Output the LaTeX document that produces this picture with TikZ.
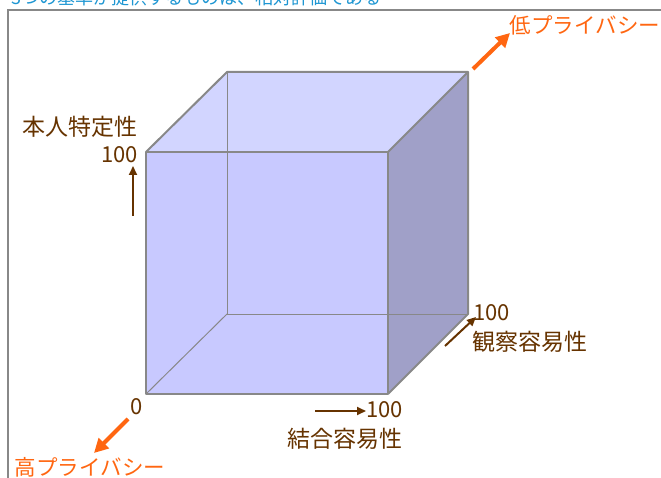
\documentclass[tikz,border=0pt]{standalone}
\usepackage{fontspec}
\setmainfont{Noto Sans CJK JP}
\usetikzlibrary{arrows.meta}
\definecolor{brownT}{HTML}{663300}
\definecolor{orangeT}{HTML}{FF6611}
\definecolor{blueT}{HTML}{1E96D2}
\definecolor{edgeC}{HTML}{888888}
\definecolor{frontC}{HTML}{C8C9FF}
\definecolor{topC}{HTML}{D2D5FF}
\definecolor{sideC}{HTML}{A0A0C8}
\tikzset{
  lbl/.style={text=brownT, font=\fontsize{23}{23}\selectfont, inner sep=0pt},
  numlbl/.style={text=brownT, font=\fontsize{22}{22}\selectfont, inner sep=0pt},
  privlbl/.style={text=orangeT, font=\fontsize{21.5}{21.5}\selectfont, inner sep=0pt},
  brownarrow/.style={draw=brownT, line width=2pt, -{Triangle[length=9pt,width=8pt]}},
  orangearrow/.style={draw=orangeT, line width=4pt, -{Triangle[length=14pt,width=14pt]}},
  cubeedge/.style={draw=edgeC, line width=2pt, line join=round},
  hiddenedge/.style={draw=edgeC, line width=1pt},
}
\begin{document}
\begin{tikzpicture}[x=1pt,y=-1pt]
\useasboundingbox (0,0) rectangle (661,478);
\clip (0,0) rectangle (661,478);
% title (cut off at the top edge, as in the reference)
\node[text=blueT, font=\fontsize{18}{18}\selectfont, anchor=west, inner sep=0pt] (title) at (11,-2) {3つの基準が提供するものは、相対評価である};
% frame
\draw[edgeC, line width=2pt] (8,480) -- (8,10) -- (663,10);
% cube corners
\coordinate (f1) at (146,152); \coordinate (f2) at (388,152);
\coordinate (f3) at (388,394); \coordinate (f4) at (146,394);
\coordinate (b1) at (227,72);  \coordinate (b2) at (468,72);
\coordinate (b3) at (468,314); \coordinate (b4) at (227,314);
% faces
\fill[frontC] (f1) -- (f2) -- (f3) -- (f4) -- cycle;
\fill[topC] (f1) -- (b1) -- (b2) -- (f2) -- cycle;
\fill[sideC] (f2) -- (b2) -- (b3) -- (f3) -- cycle;
% hidden edges
\draw[hiddenedge] (b1) -- (b4) -- (b3);
\draw[hiddenedge] (b4) -- (f4);
% visible edges
\draw[cubeedge] (f1) -- (f2) -- (f3) -- (f4) -- cycle;
\draw[cubeedge] (f1) -- (b1) -- (b2) -- (f2);
\draw[cubeedge] (b2) -- (b3) -- (f3);
% labels
\node[lbl] (idlbl) at (80,127) {本人特定性};
\node[numlbl, anchor=east] (id100) at (138,155) {100};
\coordinate (idA) at (133,216);
\coordinate (idB) at (133,166);
\draw[brownarrow] (idA) -- (idB);
\node[numlbl] (zero) at (137,407) {0};
\coordinate (linkA) at (315,411);
\coordinate (linkB) at (366,411);
\draw[brownarrow] (linkA) -- (linkB);
\node[numlbl, anchor=west] (link100) at (366,410) {100};
\node[lbl] (linklbl) at (345,439) {結合容易性};
\node[numlbl, anchor=west] (obs100) at (473,313) {100};
\node[lbl] (obslbl) at (530,342) {観察容易性};
\coordinate (obsA) at (445,346);
\coordinate (obsB) at (476,317);
\draw[brownarrow] (obsA) -- (obsB);
% privacy arrows
\node[privlbl] (hipriv) at (90,467) {高プライバシー};
\node[privlbl] (lopriv) at (585,25) {低プライバシー};
\coordinate (hiA) at (128,419);
\coordinate (hiB) at (94,453);
\draw[orangearrow] (hiA) -- (hiB);
\coordinate (loA) at (473,69);
\coordinate (loB) at (510,33);
\draw[orangearrow] (loA) -- (loB);
\end{tikzpicture}
\end{document}
